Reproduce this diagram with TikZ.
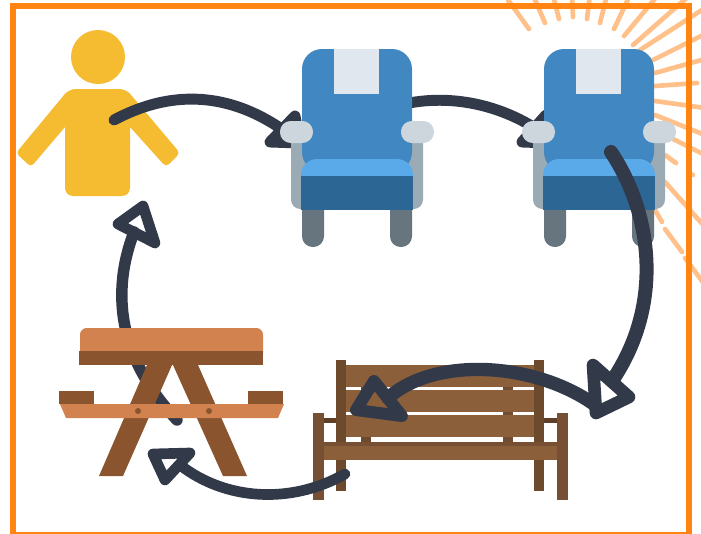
\documentclass[tikz,border=0pt]{standalone}
\usepackage{xcolor}
\definecolor{frameor}{HTML}{FF8412}
\definecolor{rayor}{HTML}{FFC08A}
\definecolor{arrowc}{HTML}{323A49}
\definecolor{persony}{HTML}{F5BC32}
\definecolor{chairback}{HTML}{4187C2}
\definecolor{chairhead}{HTML}{E1E7EE}
\definecolor{chairframe}{HTML}{9BABB5}
\definecolor{chairarm}{HTML}{CDD6DD}
\definecolor{chairseat}{HTML}{5AA9E9}
\definecolor{chairfront}{HTML}{2B6695}
\definecolor{chairleg}{HTML}{67757F}
\definecolor{tablelight}{HTML}{D1824F}
\definecolor{tabledark}{HTML}{8A552E}
\definecolor{benchplank}{HTML}{8C5F3B}
\definecolor{benchback}{HTML}{6E4A2D}
\definecolor{benchfront}{HTML}{775033}
\definecolor{benchrail}{HTML}{5F3F26}
\tikzset{
  rayline/.style={draw=rayor,line width=3.5pt,line cap=round},
  flowline/.style={draw=arrowc,line width=#1,line cap=round,line join=round},
  flowline/.default=8pt,
  chair/.pic={
    \fill[chairleg,rounded corners=8pt] (302,195) rectangle (324,247);
    \fill[chairleg,rounded corners=8pt] (390,195) rectangle (412,247);
    \fill[chairframe,rounded corners=7pt] (291,125) rectangle (423,209);
    \fill[chairback,rounded corners=15pt] (302,49) rectangle (412,172);
    \fill[chairhead] (334,49) rectangle (379,94);
    \fill[chairseat,rounded corners=12pt] (301,159) rectangle (413,195);
    \fill[chairfront] (301,176) rectangle (413,210);
    \fill[chairarm,rounded corners=8pt] (280,121) rectangle (313,143);
    \fill[chairarm,rounded corners=8pt] (401,121) rectangle (434,143);
  }
}
\begin{document}
\begin{tikzpicture}[x=0.75pt,y=-0.75pt]
\useasboundingbox (0,0) rectangle (701,533);
\fill[white] (0,0) rectangle (701,533);
\begin{scope}
\clip (0,0) rectangle (701,533);
% sun rays
\foreach \xa/\ya/\xb/\yb in {
  529/29/508/0, 545/23/533/-5, 559/19/553/-5, 573/17/572/-5, 587/19/590/-5,
  600/23/607/-5, 614/29/630/-5, 624/36/658/-5, 633/45/690/-5,
  640/50/705/8, 653/60/705/34, 655/73/705/59, 655/86/697/83, 655/101/705/108,
  655/115/705/135, 673/139/705/155, 665/155/676/163, 688/173/693/175,
  665/182/705/227, 655/210/662/222, 665/229/682/252, 685/258/705/285}
  \draw[rayline] (\xa,\ya) -- (\xb,\yb);
% frame
\draw[frameor,line width=4.5pt] (13,6) rectangle (689,535);
\end{scope}
% person
\fill[persony] (98,57) circle (27);
\fill[persony] (98,89) [rounded corners=5pt] -- (126,89) [rounded corners=3pt] -- (180,153) -- (166,167) [sharp corners] -- (130,127) [rounded corners=6pt] -- (130,196) -- (65,196) [sharp corners] -- (65,127) [rounded corners=3pt] -- (31,167) -- (16,153) [rounded corners=5pt] -- (69,89) -- cycle;
% connector ends
\coordinate (personout) at (114,120);
\coordinate (chairAin) at (290,135);
\coordinate (chairAout) at (400,105);
\coordinate (chairBin) at (535,128);
\coordinate (chairBout) at (611,152);
\coordinate (benchin) at (614,378);
\coordinate (benchoutA) at (595,405);
\coordinate (benchoutB) at (388,398);
\coordinate (benchoutC) at (345,474);
\coordinate (tablein) at (180,465);
\coordinate (tableout) at (177,420);
\coordinate (personin) at (134,232);
% connectors behind the objects
\draw[flowline=8.2pt] (personout) .. controls (170,90) and (230,90) .. (chairAin);
\draw[flowline=8.2pt] (295,116) -- (270,142) -- (300,143) -- cycle;
\draw[flowline=8.2pt] (chairAout) .. controls (440,95) and (490,100) .. (chairBin);
\draw[flowline=8.2pt] (546,115) -- (522,142) -- (550,143) -- cycle;
\draw[flowline=8.6pt] (tableout) .. controls (120,360) and (110,295) .. (personin);
\draw[flowline=8pt] (155,243) -- (143,206) -- (118,224) -- cycle;
% chairs
\pic at (0,0) {chair};
\pic at (242,0) {chair};
% picnic table
\fill[tabledark] (147,365) -- (172,365) -- (123,476) -- (99,476) -- cycle;
\fill[tabledark] (173,365) -- (198,365) -- (247,476) -- (223,476) -- cycle;
\fill[tablelight,rounded corners=5pt] (80,328) rectangle (263,360);
\fill[tabledark] (79,351) rectangle (263,365);
\fill[tabledark] (59,391) rectangle (94,404);
\fill[tabledark] (248,391) rectangle (283,404);
\fill[tablelight] (60,404) -- (284,404) -- (278,418) -- (66,418) -- cycle;
\fill[tabledark] (138,411) circle (3);
\fill[tabledark] (209,411) circle (3);
% bench
\fill[benchback] (361,380) rectangle (371,442);
\fill[benchback!85!benchplank] (503,380) rectangle (513,442);
\fill[benchrail] (324,418) rectangle (336,423);
\fill[benchrail] (544,418) rectangle (557,423);
\fill[benchback] (336,360) rectangle (346,491);
\fill[benchback] (534,360) rectangle (544,491);
\fill[benchplank] (346,365) rectangle (534,387);
\fill[benchplank] (346,390) rectangle (534,412);
\fill[benchplank] (346,415) rectangle (534,437);
\fill[benchfront] (324,442) rectangle (557,446);
\fill[benchplank] (324,446) rectangle (557,460);
\fill[benchfront] (313,413) rectangle (324,500);
\fill[benchfront] (557,413) rectangle (568,500);
% connectors in front
\draw[flowline=10.5pt] (chairBout) .. controls (650,210) and (665,300) .. (benchin);
\draw[flowline=9.5pt] (593,365) -- (629,397) -- (596,413) -- cycle;
\draw[flowline=10pt] (benchoutA) .. controls (535,362) and (435,356) .. (benchoutB);
\draw[flowline=9pt] (374,381) -- (356,410) -- (402,416) -- cycle;
\draw[flowline=8pt] (benchoutC) .. controls (290,505) and (225,500) .. (tablein);
\draw[flowline=8pt] (190,453) -- (153,454) -- (165,480) -- cycle;
\end{tikzpicture}
\end{document}
